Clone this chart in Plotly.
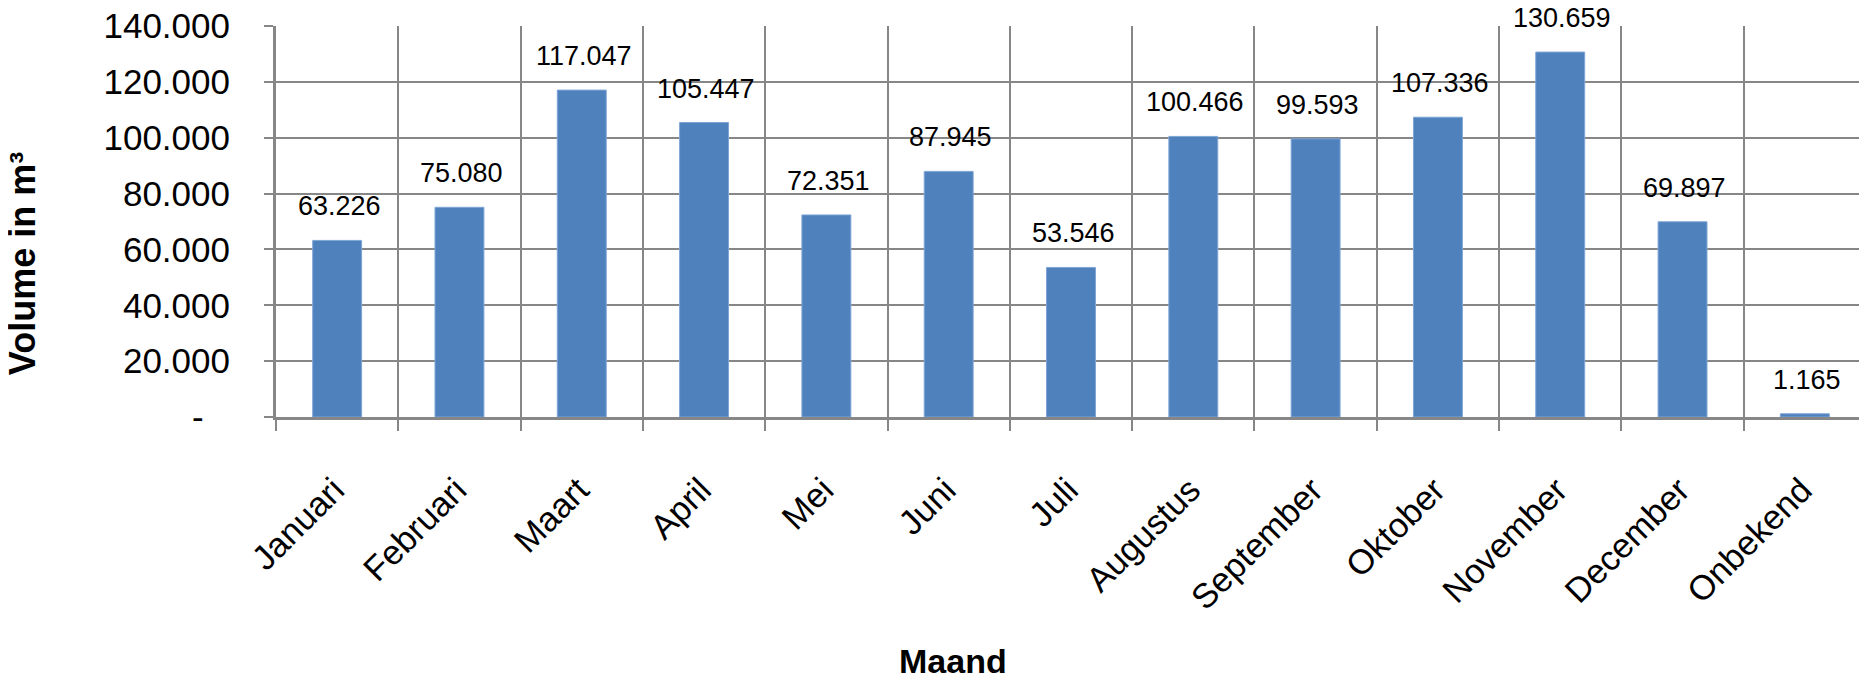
import plotly.graph_objects as go

months = ["Januari", "Februari", "Maart", "April", "Mei", "Juni", "Juli",
          "Augustus", "September", "Oktober", "November", "December", "Onbekend"]
volumes = [63226, 75080, 117047, 105447, 72351, 87945, 53546,
           100466, 99593, 107336, 130659, 69897, 1165]
y_tickvals = [0, 20000, 40000, 60000, 80000, 100000, 120000, 140000]
y_ticktext = ["-\u00a0\u00a0\u2009", "20.000", "40.000", "60.000", "80.000",
              "100.000", "120.000", "140.000"]

FONT = "Liberation Sans, Arial, sans-serif"
GRID = "#878787"
BAR = "#4F81BD"

def nl(v):
    return f"{v:,}".replace(",", ".")

fig = go.Figure()
fig.add_trace(go.Bar(
    x=months, y=volumes, width=0.4,
    marker=dict(color=BAR, line=dict(color="#7FA5D6", width=1)),
    hoverinfo="x+y",
))

annotations = []
for m, v in zip(months, volumes):
    annotations.append(dict(
        x=m, y=v, xref="x", yref="y", text=nl(v), showarrow=False,
        xanchor="center", yanchor="bottom", yshift=17, xshift=2,
        font=dict(family=FONT, size=27, color="#000000"),
    ))

annotations.append(dict(
    x=-0.1597, y=0.391, xref="paper", yref="paper", text="Volume in m³",
    showarrow=False, textangle=-90, xanchor="center", yanchor="middle",
    font=dict(family=FONT, size=36, color="#000000", weight="bold"),
))
annotations.append(dict(
    x=0.4258, y=-0.624, xref="paper", yref="paper", text="Maand",
    showarrow=False, xanchor="center", yanchor="middle",
    font=dict(family=FONT, size=34, color="#000000", weight="bold"),
))

# page body has an 8px default margin: size and margins compensate for it
fig.update_layout(
    width=1859, height=672,
    margin=dict(l=268, r=1, t=18, b=263),
    paper_bgcolor="white", plot_bgcolor="white",
    showlegend=False,
    annotations=annotations,
    font=dict(family=FONT, color="#000000"),
    xaxis=dict(
        type="category", tickson="boundaries",
        showgrid=True, gridcolor=GRID, gridwidth=2,
        showline=True, linecolor=GRID, linewidth=3,
        ticks="outside", ticklen=11, tickwidth=2, tickcolor=GRID,
        tickangle=-45, tickfont=dict(family=FONT, size=34.5, color="#000000"),
        ticklabelstandoff=36, ticklabelshift=-3, ticklabeloverflow="allow",
        range=[-0.5, 12.5], fixedrange=True, automargin=False,
    ),
    yaxis=dict(
        range=[0, 140000], tickvals=y_tickvals, ticktext=y_ticktext,
        showgrid=True, gridcolor=GRID, gridwidth=2,
        showline=True, linecolor=GRID, linewidth=3, zeroline=False,
        ticks="outside", ticklen=9, tickwidth=2, tickcolor=GRID,
        tickfont=dict(family=FONT, size=35, color="#000000"),
        ticklabelstandoff=27, ticklabeloverflow="allow",
        fixedrange=True, automargin=False,
    ),
)

fig.write_html("out.html")
